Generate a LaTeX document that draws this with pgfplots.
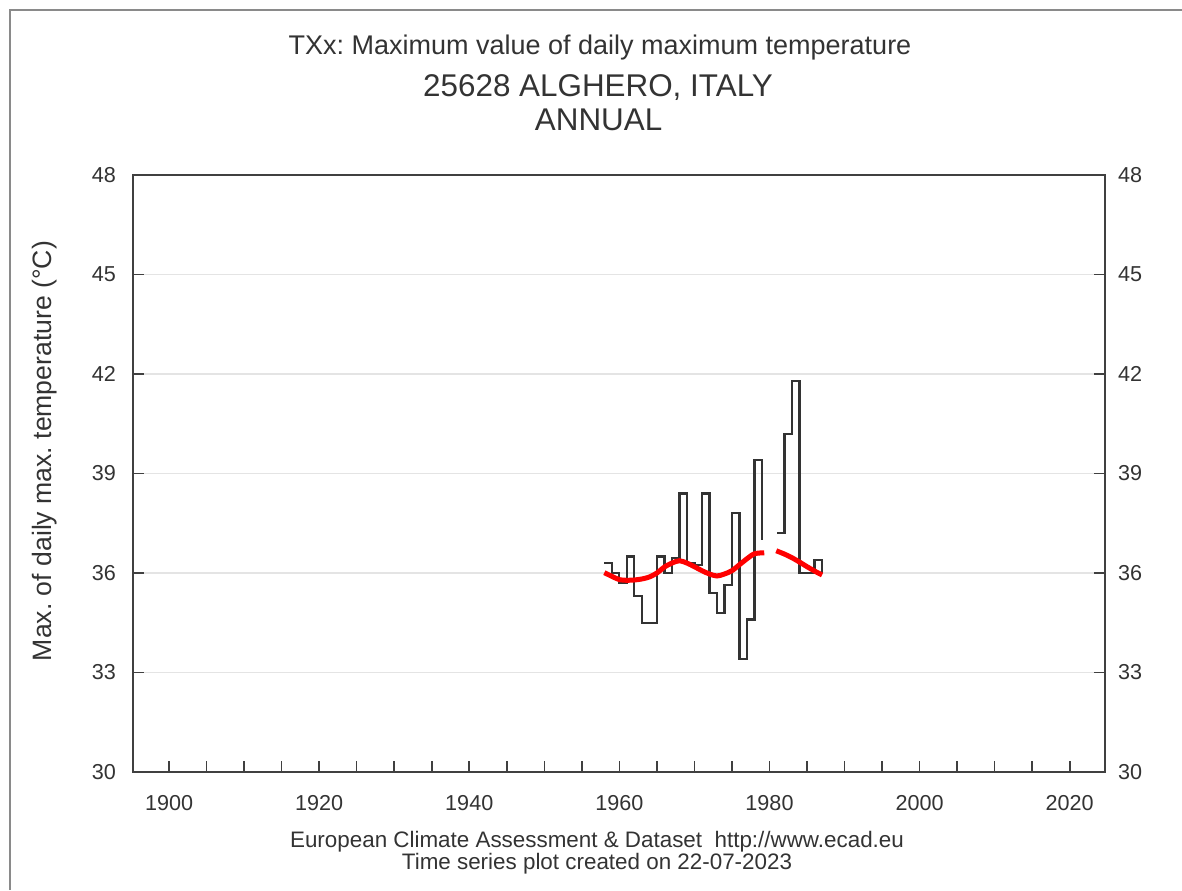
\documentclass[border=0pt]{standalone}
\usepackage{fontspec}
\setmainfont{Liberation Sans}
\usepackage{pgfplots}
\pgfplotsset{compat=1.18}
\definecolor{axisgray}{HTML}{404040}
\definecolor{gridgray}{HTML}{E4E4E4}
\definecolor{framegray}{HTML}{8A8A8A}
\frenchspacing
\begin{document}
\begin{tikzpicture}
\useasboundingbox (0,0) rectangle (591pt,445pt);
% frame of the screenshot
\draw[framegray, line width=1pt] (5pt,0pt) -- (5pt,440pt) -- (591pt,440pt);
% titles
\node[anchor=base, font=\fontsize{13.5pt}{16pt}\selectfont, text=axisgray!80!black] at (300pt,417.5pt) {TXx: Maximum value of daily maximum temperature};
\node[anchor=base, font=\fontsize{15.7pt}{18pt}\selectfont, text=axisgray!80!black] at (299pt,396.7pt) {25628 ALGHERO, ITALY};
\node[anchor=base, font=\fontsize{15.7pt}{18pt}\selectfont, text=axisgray!80!black] at (299.3pt,379.5pt) {ANNUAL};
% credits
\node[anchor=base, font=\fontsize{11.2pt}{13pt}\selectfont, text=axisgray!80!black] at (298.5pt,21.5pt) {European Climate Assessment \& Dataset\ \ http://www.ecad.eu};
\node[anchor=base, font=\fontsize{11.2pt}{13pt}\selectfont, text=axisgray!80!black] at (298.5pt,10.5pt) {Time series plot created on 22-07-2023};
% y label
\node[rotate=90, font=\fontsize{13.3pt}{16pt}\selectfont, text=axisgray!80!black] at (22.5pt,219.5pt) {Max. of daily max. temperature (°C)};

\begin{axis}[
  at={(66.5pt,59pt)}, anchor=south west,
  scale only axis, width=486pt, height=298.5pt,
  xmin=1895.2, xmax=2024.7, ymin=30, ymax=48,
  xtick={1900,1920,...,2020},
  minor xtick={1905,1910,1915,1925,1930,1935,1945,1950,1955,1965,1970,1975,1985,1990,1995,2005,2010,2015},
  ytick={30,33,...,48},
  xtick pos=bottom, ytick pos=both,
  tick align=inside,
  major tick length=5.5pt, minor tick length=5.5pt,
  every tick/.style={axisgray, line width=0.8pt},
  axis line style={axisgray, line width=1pt},
  ymajorgrids, major grid style={gridgray, line width=0.8pt},
  /pgf/number format/assume math mode=true,
  /pgf/number format/1000 sep={},
  xticklabel style={font=\fontsize{10.8pt}{12pt}\selectfont, text=axisgray!80!black, yshift=-8pt},
  yticklabel style={font=\fontsize{10.8pt}{12pt}\selectfont, text=axisgray!80!black, xshift=-5pt},
  clip=false,
]
\addplot[const plot, black!80, line width=1.1pt] coordinates {
(1958,36.3)(1959,36.0)(1960,35.7)(1961,36.5)(1962,35.3)(1963,34.5)(1964,34.5)
(1965,36.5)(1966,36.0)(1967,36.45)(1968,38.4)(1969,36.3)(1970,36.25)(1971,38.4)
(1972,35.4)(1973,34.8)(1974,35.65)(1975,37.8)(1976,33.4)(1977,34.6)(1978,39.4)(1979,37.0)
};
\addplot[const plot, black!80, line width=1.1pt] coordinates {
(1981,37.2)(1982,40.2)(1983,41.8)(1984,36.0)(1985,36.0)(1986,36.4)(1987,36.0)
};
\addplot[smooth, red, line width=2.5pt] coordinates {
(1958,36.01)(1959,35.9)(1960,35.8)(1961,35.78)(1962,35.79)(1963,35.82)(1964,35.88)
(1965,36.0)(1966,36.18)(1967,36.3)(1968,36.37)(1969,36.3)(1970,36.19)(1971,36.07)
(1972,35.97)(1973,35.91)(1974,35.97)(1975,36.07)(1976,36.25)(1977,36.43)(1978,36.58)(1979.3,36.61)
};
\addplot[smooth, red, line width=2.5pt] coordinates {
(1980.9,36.67)(1982,36.57)(1983,36.46)(1984,36.33)(1985,36.19)(1986,36.06)(1987,35.94)
};
\end{axis}
\begin{axis}[
  at={(66.5pt,59pt)}, anchor=south west,
  scale only axis, width=486pt, height=298.5pt,
  xmin=1895.2, xmax=2024.7, ymin=30, ymax=48,
  xtick=\empty, ytick={30,33,...,48},
  yticklabel pos=right,
  ytick style={draw=none},
  axis line style={draw=none},
  /pgf/number format/assume math mode=true,
  yticklabel style={font=\fontsize{10.8pt}{12pt}\selectfont, text=axisgray!80!black, xshift=3pt},
]
\end{axis}
\end{tikzpicture}
\end{document}
